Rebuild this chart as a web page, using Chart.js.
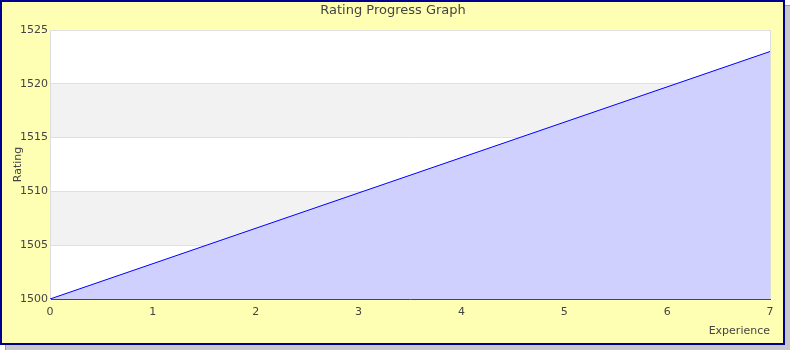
<!DOCTYPE html>
<html>
<head>
<meta charset="utf-8">
<script src="https://cdn.jsdelivr.net/npm/chart.js@4"></script>
<style>
  body { margin: 0; background: #ffffff; }
  #wrap { width: 790px; height: 350px; }
</style>
</head>
<body>
<div id="wrap"><canvas id="rating-chart" width="790" height="350"></canvas></div>
<script>
// data
var experience = [0, 7];
var rating = [1500, 1523];
var y_ticks = [1500, 1505, 1510, 1515, 1520, 1525];
var x_ticks = [0, 1, 2, 3, 4, 5, 6, 7];

var points = experience.map(function (x, i) {
    return { x: x, y: rating[i] };
});

//frame, yellow panel, stripes and the title
var framePlugin = {
    id: "frame",
    beforeDraw: function (chart) {
        var c = chart.ctx;
        var area = chart.chartArea;
        c.save();
        // shadow
        c.fillStyle = "#9a9a9a";
        c.fillRect(5, 5, 785, 345);
        c.fillStyle = "#c8c8c8";
        c.fillRect(6, 6, 784, 344);
        // panel
        c.fillStyle = "#ffffb3";
        c.fillRect(0, 0, 785, 345);
        c.strokeStyle = "#000090";
        c.lineWidth = 2;
        c.strokeRect(1, 1, 783, 343);
        // plot background with alternating bands
        c.fillStyle = "#ffffff";
        c.fillRect(area.left, area.top, area.right - area.left, area.bottom - area.top);
        var ys = chart.scales.y;
        c.fillStyle = "#f2f2f2";
        for (var i = 0; i < y_ticks.length - 1; i++) {
            if (i % 2 === 1) {
                var top = ys.getPixelForValue(y_ticks[i + 1]);
                var bot = ys.getPixelForValue(y_ticks[i]);
                c.fillRect(area.left, top, area.right - area.left, bot - top);
            }
        }
        // title
        c.fillStyle = "#444444";
        c.font = "13px 'DejaVu Sans'";
        c.textAlign = "center";
        c.textBaseline = "middle";
        c.fillText("Rating Progress Graph", 393, 11);
        c.restore();
    }
};

let rating_ctx = document.getElementById("rating-chart");

let rating_chart = new Chart(rating_ctx, {
    type: "line",
    data: {
        datasets: [{
            data: points,
            borderColor: "#0000ff",
            borderWidth: 1,
            backgroundColor: "#d0d0ff",
            fill: "start",
            pointRadius: 0,
            tension: 0
        }]
    },
    options: {
        responsive: false,
        animation: false,
        layout: {
            padding: { left: 0, top: 30, right: 20, bottom: 0 }
        },
        plugins: {
            legend: { display: false },
            tooltip: { enabled: false },
            title: { display: false }
        },
        scales: {
            x: {
                type: "linear",
                min: 0,
                max: 7,
                afterBuildTicks: function (scale) {
                    scale.ticks = x_ticks.map(function (v) { return { value: v }; });
                },
                afterFit: function (scale) { scale.height = 51; },
                grid: {
                    drawTicks: false,
                    color: function (ctx) {
                        return ctx.tick && ctx.tick.value === 7 ? "#dddddd" : "rgba(0,0,0,0)";
                    }
                },
                border: { color: "#dd0022", width: 1 },
                ticks: {
                    padding: 7,
                    color: "#444444",
                    font: { family: "DejaVu Sans", size: 11 },
                    maxRotation: 0,
                    callback: function (v) { return String(v); }
                },
                title: {
                    display: true,
                    text: "Experience",
                    align: "end",
                    color: "#444444",
                    font: { family: "DejaVu Sans", size: 11 },
                    padding: { top: 0, bottom: 12 }
                }
            },
            y: {
                min: 1500,
                max: 1525,
                afterBuildTicks: function (scale) {
                    scale.ticks = y_ticks.map(function (v) { return { value: v }; });
                },
                afterFit: function (scale) { scale.width = 50; },
                grid: {
                    drawTicks: false,
                    color: "#e0e0e0"
                },
                border: { color: "#dddddd" },
                ticks: {
                    padding: 2,
                    color: "#444444",
                    font: { family: "DejaVu Sans", size: 11 },
                    callback: function (v) { return String(v); }
                },
                title: {
                    display: true,
                    text: "Rating",
                    color: "#444444",
                    font: { family: "DejaVu Sans", size: 11 },
                    padding: { top: 12, bottom: 0 }
                }
            }
        }
    },
    plugins: [framePlugin]
});
</script>
</body>
</html>
